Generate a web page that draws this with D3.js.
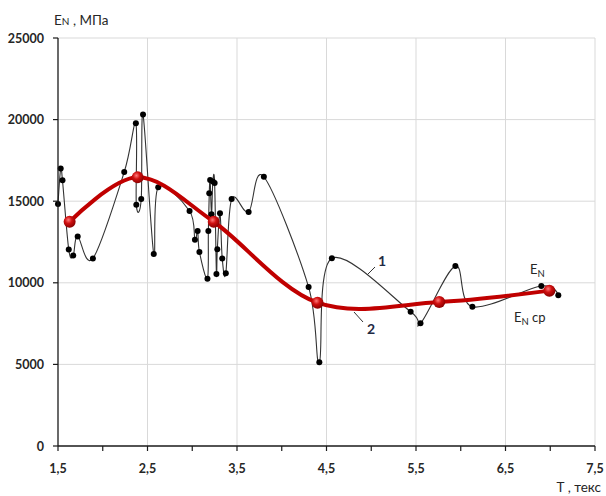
<!DOCTYPE html>
<html>
<head>
<meta charset="utf-8">
<script src="https://cdn.jsdelivr.net/npm/d3@7"></script>
<style>
  html, body { margin: 0; padding: 0; background: #fff; }
  svg { display: block; }
</style>
</head>
<body>
<svg id="chart" width="606" height="496"></svg>
<script>
// ---- data ----
const seriesT = [1.50, 1.53, 1.55, 1.62, 1.67, 1.72, 1.89, 2.24, 2.37, 2.375, 2.43, 2.45, 2.57, 2.62,
  2.97, 3.03, 3.06, 3.08, 3.17, 3.18, 3.19, 3.20, 3.215, 3.23, 3.25, 3.27, 3.28, 3.31, 3.335, 3.375,
  3.44, 3.63, 3.80, 4.30, 4.42, 4.56, 5.44, 5.55, 5.94, 6.13, 6.90, 7.09];
const seriesEN = [14830, 17000, 16280, 12040, 11670, 12840, 11490, 16790, 19770, 14790, 15130, 20320, 11760, 15850,
  14400, 12640, 13170, 11890, 10250, 13170, 15480, 16300, 14200, 16210, 16110, 10540, 12050, 14260, 11490, 10580,
  15130, 14340, 16500, 9740, 5130, 11500, 8230, 7520, 11030, 8530, 9800, 9230];
const avgT = [1.63, 2.39, 3.24, 4.40, 5.76, 6.99];
const avgEN = [13740, 16460, 13740, 8780, 8820, 9520];
const xTicks = [1.5, 2.5, 3.5, 4.5, 5.5, 6.5, 7.5];
const xTickLabels = ["1,5", "2,5", "3,5", "4,5", "5,5", "6,5", "7,5"];
const xMinorTicks = [2.0, 3.0, 4.0, 5.0, 6.0, 7.0];
const yTicks = [0, 5000, 10000, 15000, 20000, 25000];
const yTickLabels = ["0", "5000", "10000", "15000", "20000", "25000"];

// ---- layout ----
const svg = d3.select("#chart");
const x = d3.scaleLinear().domain([1.5, 7.5]).range([58, 595]);
const y = d3.scaleLinear().domain([0, 25000]).range([446, 38]);
const FONT = "Lato, 'Open Sans', 'DejaVu Sans', sans-serif";
const TXT = "#262626";

const defs = svg.append("defs");
const grad = defs.append("radialGradient").attr("id", "ball")
  .attr("cx", "40%").attr("cy", "35%").attr("r", "65%");
grad.append("stop").attr("offset", "0%").attr("stop-color", "#ff7a7a");
grad.append("stop").attr("offset", "45%").attr("stop-color", "#d01010");
grad.append("stop").attr("offset", "100%").attr("stop-color", "#8a0000");

// gridlines
svg.append("g").selectAll("line").data(yTicks.slice(1)).join("line")
  .attr("x1", x(1.5)).attr("x2", x(7.5))
  .attr("y1", d => y(d)).attr("y2", d => y(d))
  .attr("stroke", "#d9d9d9").attr("stroke-width", 1);
svg.append("g").selectAll("line").data(xTicks.slice(1)).join("line")
  .attr("y1", y(0)).attr("y2", y(25000))
  .attr("x1", d => x(d)).attr("x2", d => x(d))
  .attr("stroke", "#d9d9d9").attr("stroke-width", 1);

// series 1 (black)
const pts = seriesT.map((t, i) => [t, seriesEN[i]]);
const avg = avgT.map((t, i) => [t, avgEN[i]]);
const line = d3.line().x(d => x(d[0])).y(d => y(d[1])).curve(d3.curveCardinal.tension(0));

svg.append("path").datum(pts).attr("d", line)
  .attr("fill", "none").attr("stroke", "#333").attr("stroke-width", 1.1);
svg.append("g").selectAll("circle").data(pts).join("circle")
  .attr("cx", d => x(d[0])).attr("cy", d => y(d[1])).attr("r", 3)
  .attr("fill", "#000");

// series 2 (red average)
svg.append("path").datum(avg).attr("d", line)
  .attr("fill", "none").attr("stroke", "#c00000").attr("stroke-width", 4)
  .attr("stroke-linecap", "round");
svg.append("g").selectAll("circle").data(avg).join("circle")
  .attr("cx", d => x(d[0])).attr("cy", d => y(d[1])).attr("r", 6)
  .attr("fill", "url(#ball)");

// axes
const xAxis = svg.append("g");
xAxis.append("line").attr("x1", x(1.5)).attr("x2", x(7.5)).attr("y1", y(0)).attr("y2", y(0))
  .attr("stroke", "#1a1a1a").attr("stroke-width", 1.3);
xAxis.selectAll("line.tk").data(xTicks.concat(xMinorTicks)).join("line").attr("class", "tk")
  .attr("x1", d => x(d)).attr("x2", d => x(d)).attr("y1", y(0)).attr("y2", y(0) + 5)
  .attr("stroke", "#1a1a1a").attr("stroke-width", 1.2);
xAxis.selectAll("text").data(xTicks).join("text")
  .attr("x", d => x(d)).attr("y", y(0) + 27)
  .attr("text-anchor", "middle").attr("font-family", FONT).attr("font-weight", "bold")
  .attr("font-size", 12.5).attr("fill", TXT)
  .text((d, i) => xTickLabels[i]);

const yAxis = svg.append("g");
yAxis.append("line").attr("x1", x(1.5)).attr("x2", x(1.5)).attr("y1", y(0)).attr("y2", y(25000))
  .attr("stroke", "#1a1a1a").attr("stroke-width", 1.3);
yAxis.selectAll("line.tk").data(yTicks).join("line").attr("class", "tk")
  .attr("x1", x(1.5) - 5).attr("x2", x(1.5)).attr("y1", d => y(d)).attr("y2", d => y(d))
  .attr("stroke", "#1a1a1a").attr("stroke-width", 1.2);
yAxis.selectAll("text").data(yTicks).join("text")
  .attr("x", 44).attr("y", d => y(d) + 4.5)
  .attr("text-anchor", "end").attr("font-family", FONT).attr("font-weight", "bold")
  .attr("font-size", 12.5).attr("fill", TXT)
  .text((d, i) => yTickLabels[i]);

// axis titles
const yt = svg.append("text").attr("x", 54).attr("y", 25)
  .attr("font-family", FONT).attr("font-size", 13.5).attr("fill", TXT);
yt.append("tspan").text("E");
yt.append("tspan").attr("font-size", 10).text("N");
yt.append("tspan").text(" , МПа");

svg.append("text").attr("x", 601).attr("y", 492).attr("text-anchor", "end")
  .attr("font-family", FONT).attr("font-size", 13.5).attr("fill", TXT)
  .text("T , текс");

// curve labels
svg.append("line").attr("x1", 367).attr("y1", 275).attr("x2", 375).attr("y2", 267)
  .attr("stroke", "#333").attr("stroke-width", 1);
svg.append("text").attr("x", 382).attr("y", 266).attr("text-anchor", "middle")
  .attr("font-family", FONT).attr("font-weight", "bold").attr("font-size", 14).attr("fill", "#1f2a44")
  .text("1");
svg.append("line").attr("x1", 354).attr("y1", 312).attr("x2", 363).attr("y2", 322)
  .attr("stroke", "#333").attr("stroke-width", 1);
svg.append("text").attr("x", 371).attr("y", 334).attr("text-anchor", "middle")
  .attr("font-family", FONT).attr("font-weight", "bold").attr("font-size", 14).attr("fill", "#1f2a44")
  .text("2");

const l1 = svg.append("text").attr("x", 530).attr("y", 274)
  .attr("font-family", FONT).attr("font-size", 13).attr("fill", TXT);
l1.append("tspan").text("E");
l1.append("tspan").attr("font-size", 9.5).attr("dy", 3).text("N");

const l2 = svg.append("text").attr("x", 514).attr("y", 322)
  .attr("font-family", FONT).attr("font-size", 13).attr("fill", TXT);
l2.append("tspan").text("E");
l2.append("tspan").attr("font-size", 9.5).attr("dy", 3).text("N");
l2.append("tspan").attr("dy", -3).text(" ср");
</script>
</body>
</html>
